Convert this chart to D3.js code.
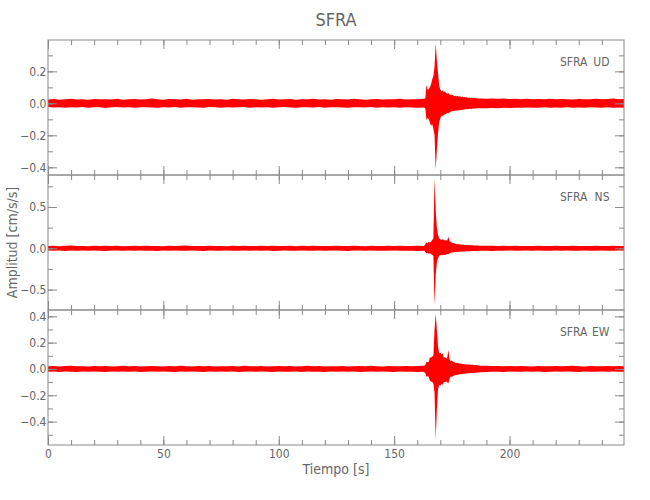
<!DOCTYPE html>
<html><head><meta charset="utf-8">
<script src="https://cdn.jsdelivr.net/npm/d3@7"></script>
<style>
body{margin:0;background:#fff}
svg text{font-family:"Liberation Sans Narrow","DejaVu Sans Condensed","Roboto Condensed",sans-serif;fill:#666}
</style>
</head><body>
<svg id="chart" width="650" height="500"></svg>
<script>
// ---- data ----
const title = "SFRA";
const station = "SFRA";
const components = ["UD", "NS", "EW"];
const xLabel = "Tiempo [s]";
const yLabel = "Amplitud [cm/s/s]";
const xTickValues = [0, 50, 100, 150, 200];
const xDomain = [0, 249.6];
const yDomains = [[-0.448, 0.396], [-0.747, 0.887], [-0.578, 0.448]];
const yMajorSteps = [0.2, 0.5, 0.2];
const yMinorSteps = [0.1, 0.25, 0.1];

// time samples [s] of the min/max envelope
const times = [
 0,2.5,5,7.5,10,12.5,15,17.5,20,22.5,25,27.5,30,32.5,35,37.5,40,42.5,45,47.5,50,52.5,55,57.5,60,62.5,65,67.5,70,72.5,75,77.5,80,82.5,85,87.5,90,92.5,95,97.5,100,102.5,105,107.5,110,112.5,115,117.5,120,122.5,125,127.5,130,132.5,135,137.5,140,142.5,145,147.5,150,152.5,155,157.5,160,162.5,
 163,163.5,164,164.5,165,165.5,166,166.5,167,167.5,168,168.5,169,169.5,170,170.5,171,171.5,172,172.5,173,173.5,174,174.5,175,175.5,176,176.5,177,177.5,178,178.5,179,179.5,180,180.5,181,181.5,182,182.5,183,183.5,184,184.5,185,185.5,186,
 187.5,190,192.5,195,197.5,200,202.5,205,207.5,210,212.5,215,217.5,220,222.5,225,227.5,230,232.5,235,237.5,240,242.5,245,247.5,250
];

const udUpper = [
 0.024,0.027,0.023,0.026,0.028,0.024,0.025,0.022,0.027,0.025,0.026,0.024,0.028,0.023,0.025,0.027,0.024,0.026,0.031,0.025,
 0.023,0.027,0.025,0.024,0.028,0.023,0.026,0.025,0.027,0.024,0.026,0.023,0.028,0.025,0.024,0.027,0.025,0.023,0.026,0.028,
 0.024,0.025,0.027,0.023,0.026,0.025,0.028,0.024,0.026,0.023,0.027,0.025,0.024,0.028,0.025,0.023,0.026,0.027,0.024,0.026,
 0.025,0.028,0.024,0.026,0.025,0.028,
 0.028,0.03,0.115,0.085,0.09,0.1,0.12,0.15,0.17,0.23,
 0.375,0.27,0.19,0.11,0.085,0.075,0.08,0.07,0.075,0.065,
 0.06,0.065,0.055,0.05,0.055,0.05,0.045,0.048,0.044,0.046,
 0.042,0.045,0.04,0.043,0.038,0.04,0.036,0.038,0.035,0.037,
 0.034,0.036,0.033,0.035,0.032,0.034,0.031,
 0.03,0.029,0.031,0.028,0.03,0.027,0.028,0.026,0.029,0.025,0.027,0.026,0.028,0.025,0.027,0.026,0.024,0.027,0.025,0.026,
 0.028,0.025,0.027,0.03,0.026,0.027
];
const udLower = [
 -0.023,-0.026,-0.025,-0.028,-0.024,-0.026,-0.023,-0.027,-0.025,-0.024,-0.029,-0.025,-0.023,-0.026,-0.024,-0.027,-0.025,-0.024,-0.026,-0.028,
 -0.024,-0.026,-0.023,-0.027,-0.025,-0.024,-0.026,-0.028,-0.023,-0.025,-0.027,-0.024,-0.026,-0.025,-0.023,-0.027,-0.025,-0.026,-0.024,-0.028,
 -0.025,-0.023,-0.026,-0.027,-0.024,-0.025,-0.026,-0.023,-0.027,-0.025,-0.024,-0.026,-0.028,-0.025,-0.024,-0.026,-0.023,-0.027,-0.025,-0.026,
 -0.024,-0.027,-0.025,-0.026,-0.028,-0.026,
 -0.027,-0.03,-0.105,-0.09,-0.1,-0.12,-0.14,-0.13,-0.16,-0.2,
 -0.417,-0.29,-0.19,-0.12,-0.095,-0.075,-0.08,-0.072,-0.07,-0.065,
 -0.06,-0.062,-0.055,-0.052,-0.05,-0.05,-0.046,-0.047,-0.045,-0.044,
 -0.043,-0.044,-0.04,-0.041,-0.038,-0.039,-0.036,-0.037,-0.035,-0.036,
 -0.034,-0.035,-0.033,-0.034,-0.032,-0.033,-0.031,
 -0.03,-0.031,-0.029,-0.03,-0.028,-0.029,-0.027,-0.028,-0.026,-0.028,-0.027,-0.025,-0.027,-0.026,-0.028,-0.025,-0.027,-0.026,-0.028,-0.025,
 -0.026,-0.027,-0.025,-0.028,-0.026,-0.027
];

const nsUpper = [
 0.028,0.031,0.026,0.03,0.033,0.027,0.029,0.026,0.032,0.028,0.03,0.027,0.031,0.026,0.029,0.032,0.028,0.03,0.027,0.029,
 0.026,0.031,0.028,0.03,0.033,0.027,0.029,0.028,0.031,0.027,0.029,0.026,0.032,0.028,0.03,0.027,0.029,0.031,0.028,0.03,
 0.027,0.029,0.032,0.026,0.03,0.028,0.031,0.027,0.029,0.028,0.03,0.027,0.029,0.032,0.028,0.026,0.03,0.029,0.027,0.031,
 0.028,0.03,0.027,0.029,0.031,0.029,
 0.03,0.05,0.07,0.065,0.075,0.07,0.08,0.1,0.12,0.85,
 0.45,0.25,0.16,0.12,0.11,0.1,0.11,0.1,0.095,0.1,
 0.09,0.14,0.085,0.08,0.07,0.065,0.06,0.055,0.05,0.052,
 0.048,0.046,0.044,0.045,0.042,0.04,0.041,0.039,0.038,0.039,
 0.037,0.036,0.037,0.035,0.034,0.035,0.033,
 0.032,0.031,0.03,0.029,0.031,0.028,0.03,0.027,0.029,0.028,0.03,0.027,0.029,0.031,0.028,0.027,0.03,0.028,0.029,0.027,
 0.03,0.028,0.029,0.031,0.028,0.029
];
const nsLower = [
 -0.027,-0.03,-0.028,-0.032,-0.027,-0.029,-0.026,-0.031,-0.028,-0.03,-0.033,-0.028,-0.026,-0.03,-0.028,-0.031,-0.027,-0.029,-0.03,-0.032,
 -0.028,-0.03,-0.026,-0.031,-0.029,-0.027,-0.03,-0.032,-0.027,-0.029,-0.031,-0.028,-0.03,-0.029,-0.026,-0.031,-0.028,-0.03,-0.027,-0.032,
 -0.029,-0.027,-0.03,-0.031,-0.028,-0.029,-0.03,-0.026,-0.031,-0.028,-0.027,-0.03,-0.032,-0.028,-0.027,-0.03,-0.026,-0.031,-0.029,-0.03,
 -0.028,-0.031,-0.029,-0.03,-0.032,-0.03,
 -0.03,-0.045,-0.06,-0.055,-0.065,-0.06,-0.07,-0.08,-0.09,-0.686,
 -0.32,-0.17,-0.12,-0.09,-0.085,-0.08,-0.085,-0.078,-0.08,-0.075,
 -0.07,-0.072,-0.06,-0.055,-0.05,-0.05,-0.047,-0.045,-0.044,-0.043,
 -0.042,-0.041,-0.04,-0.04,-0.039,-0.038,-0.037,-0.037,-0.036,-0.036,
 -0.035,-0.034,-0.034,-0.033,-0.033,-0.032,-0.032,
 -0.031,-0.03,-0.032,-0.029,-0.03,-0.028,-0.031,-0.029,-0.027,-0.03,-0.028,-0.029,-0.031,-0.027,-0.03,-0.028,-0.029,-0.03,-0.027,-0.029,
 -0.031,-0.028,-0.03,-0.029,-0.027,-0.03
];

const ewUpper = [
 0.02,0.023,0.019,0.022,0.025,0.02,0.021,0.018,0.023,0.02,0.022,0.019,0.021,0.024,0.02,0.022,0.019,0.021,0.023,0.02,
 0.018,0.022,0.02,0.025,0.021,0.019,0.022,0.02,0.023,0.019,0.021,0.02,0.022,0.019,0.024,0.021,0.02,0.022,0.019,0.021,
 0.023,0.02,0.022,0.019,0.021,0.025,0.02,0.022,0.019,0.021,0.02,0.023,0.019,0.021,0.022,0.02,0.024,0.021,0.019,0.022,
 0.02,0.021,0.023,0.02,0.022,0.024,
 0.025,0.03,0.055,0.05,0.055,0.09,0.085,0.095,0.1,0.3,
 0.42,0.3,0.17,0.12,0.125,0.11,0.12,0.085,0.09,0.08,
 0.085,0.144,0.07,0.06,0.065,0.055,0.05,0.048,0.045,0.047,
 0.042,0.04,0.041,0.038,0.037,0.036,0.035,0.034,0.033,0.034,
 0.032,0.031,0.032,0.03,0.029,0.03,0.028,
 0.025,0.024,0.022,0.023,0.021,0.022,0.02,0.023,0.021,0.019,0.022,0.02,0.021,0.023,0.02,0.022,0.024,0.021,0.019,0.022,
 0.02,0.021,0.023,0.02,0.022,0.021
];
const ewLower = [
 -0.021,-0.019,-0.023,-0.02,-0.022,-0.024,-0.02,-0.022,-0.019,-0.021,-0.023,-0.02,-0.022,-0.019,-0.021,-0.02,-0.023,-0.021,-0.019,-0.022,
 -0.02,-0.021,-0.024,-0.02,-0.022,-0.019,-0.021,-0.023,-0.02,-0.022,-0.019,-0.021,-0.02,-0.023,-0.021,-0.02,-0.022,-0.019,-0.021,-0.023,
 -0.02,-0.022,-0.021,-0.019,-0.023,-0.02,-0.022,-0.021,-0.024,-0.02,-0.022,-0.019,-0.021,-0.02,-0.023,-0.021,-0.02,-0.022,-0.019,-0.021,
 -0.023,-0.02,-0.022,-0.021,-0.024,-0.022,
 -0.025,-0.03,-0.06,-0.055,-0.06,-0.09,-0.095,-0.1,-0.11,-0.18,
 -0.54,-0.31,-0.16,-0.12,-0.125,-0.115,-0.12,-0.1,-0.1,-0.095,
 -0.1,-0.11,-0.07,-0.06,-0.06,-0.055,-0.05,-0.047,-0.045,-0.046,
 -0.042,-0.04,-0.04,-0.038,-0.037,-0.036,-0.035,-0.034,-0.033,-0.033,
 -0.032,-0.031,-0.031,-0.03,-0.029,-0.029,-0.028,
 -0.025,-0.023,-0.022,-0.021,-0.023,-0.02,-0.022,-0.021,-0.019,-0.022,-0.02,-0.023,-0.021,-0.02,-0.022,-0.019,-0.021,-0.023,-0.02,-0.022,
 -0.021,-0.019,-0.022,-0.02,-0.021,-0.022
];

const uppers = [udUpper, nsUpper, ewUpper];
const lowers = [udLower, nsLower, ewLower];

// ---- layout ----
const svg = d3.select("#chart");
const left = 48, right = 624, top0 = 40, panelH = 135;
const axisColor = "#8a8a8a", textColor = "#666", traceColor = "#ff0000";

const x = d3.scaleLinear().domain(xDomain).range([left, right]);

svg.append("text").attr("x", (left + right) / 2).attr("y", 26)
  .attr("text-anchor", "middle").attr("font-size", 18).text(title);

components.forEach((comp, i) => {
  const y0 = top0 + i * panelH, y1 = y0 + panelH;
  const y = d3.scaleLinear().domain(yDomains[i]).range([y1, y0]);
  const g = svg.append("g");

  const clipId = "clip" + i;
  svg.append("clipPath").attr("id", clipId).append("rect")
    .attr("x", left).attr("y", top0 - 10).attr("width", right - left).attr("height", panelH * 3 + 20);

  const n = Math.min(times.length, uppers[i].length, lowers[i].length);
  const pts = d3.range(n).map(k => ({t: times[k], hi: uppers[i][k], lo: lowers[i][k]}));
  const area = d3.area().x(d => x(d.t)).y0(d => y(d.lo)).y1(d => y(d.hi));
  g.append("path").datum(pts).attr("d", area)
    .attr("fill", traceColor)
    .attr("clip-path", `url(#${clipId})`);

  const [dmin, dmax] = yDomains[i];
  const eps = 1e-9;
  const major = d3.range(Math.ceil(dmin / yMajorSteps[i] - eps) * yMajorSteps[i], dmax + eps, yMajorSteps[i]);
  const minor = d3.range(Math.ceil(dmin / yMinorSteps[i] - eps) * yMinorSteps[i], dmax + eps, yMinorSteps[i]);
  const xMinor = d3.range(0, xDomain[1], 10);
  const fmt = v => d3.format(".1f")(Math.abs(v) < 1e-9 ? 0 : v);

  const style = sel => {
    sel.selectAll("line").attr("stroke", axisColor);
    sel.select(".domain").remove();
    sel.selectAll("text").attr("fill", textColor).attr("font-size", 12)
      .attr("font-family", null);
  };

  // left axis
  g.append("g").attr("transform", `translate(${left},0)`)
    .call(d3.axisLeft(y).tickValues(major).tickSize(-9).tickPadding(1.5).tickFormat(fmt)).call(style);
  g.append("g").attr("transform", `translate(${left},0)`)
    .call(d3.axisLeft(y).tickValues(minor).tickSize(-5).tickFormat("")).call(style);
  // right axis
  g.append("g").attr("transform", `translate(${right},0)`)
    .call(d3.axisRight(y).tickValues(major).tickSize(-9).tickFormat("")).call(style);
  g.append("g").attr("transform", `translate(${right},0)`)
    .call(d3.axisRight(y).tickValues(minor).tickSize(-5).tickFormat("")).call(style);
  // top axis
  g.append("g").attr("transform", `translate(0,${y0})`)
    .call(d3.axisTop(x).tickValues(xTickValues).tickSize(-9).tickFormat("")).call(style);
  g.append("g").attr("transform", `translate(0,${y0})`)
    .call(d3.axisTop(x).tickValues(xMinor).tickSize(-5).tickFormat("")).call(style);
  // bottom axis
  const last = i === components.length - 1;
  g.append("g").attr("transform", `translate(0,${y1})`)
    .call(d3.axisBottom(x).tickValues(xTickValues).tickSize(-9).tickPadding(4.5)
      .tickFormat(last ? d3.format("d") : "")).call(style);
  g.append("g").attr("transform", `translate(0,${y1})`)
    .call(d3.axisBottom(x).tickValues(xMinor).tickSize(-5).tickFormat("")).call(style);

  // frame
  g.append("rect").attr("x", left).attr("y", y0).attr("width", right - left).attr("height", panelH)
    .attr("fill", "none").attr("stroke", axisColor).attr("stroke-width", 1);

  // panel label
  g.append("text").attr("x", 560).attr("y", y0 + 26).attr("font-size", 12).text(station);
  g.append("text").attr("x", 609.5).attr("y", y0 + 26).attr("text-anchor", "end").attr("font-size", 12).text(comp);
});

svg.append("text").attr("x", (left + right) / 2).attr("y", 474)
  .attr("text-anchor", "middle").attr("font-size", 14).text(xLabel);
svg.append("text").attr("transform", `translate(17,${top0 + panelH * 1.5}) rotate(-90)`)
  .attr("text-anchor", "middle").attr("font-size", 14).text(yLabel);
</script>
</body></html>
